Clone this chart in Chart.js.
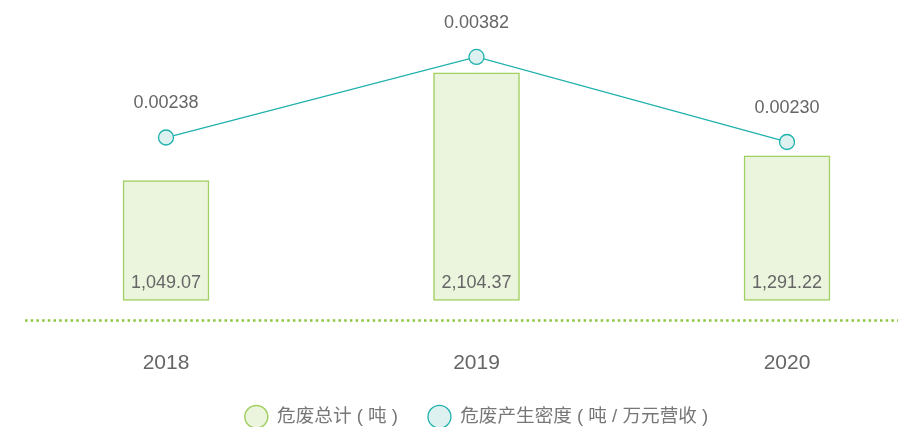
<!DOCTYPE html>
<html>
<head>
<meta charset="utf-8">
<script src="https://cdn.jsdelivr.net/npm/chart.js@4/dist/chart.umd.min.js"></script>
<style>
  html, body { margin: 0; padding: 0; background: #fff; overflow: hidden; }
  #wrap { width: 900px; height: 427px; position: relative; }
</style>
</head>
<body>
<div id="wrap"><canvas id="chart"></canvas></div>
<script>
// dados do gráfico
const anos = ['2018', '2019', '2020'];
const totalResiduos = [1049.07, 2104.37, 1291.22];
const densidade = [0.00238, 0.00382, 0.00230];
const nomesSeries = ['危废总计 ( 吨 )', '危废产生密度 ( 吨 / 万元营收 )'];

const FONTE = '"Liberation Sans", Arial, "Noto Sans CJK SC", sans-serif';
const CINZA = '#666';

// linha pontilhada e rótulos de valor
const rotulosPlugin = {
  id: 'rotulos',
  afterDatasetsDraw(chart) {
    const ctx = chart.ctx;
    const area = chart.chartArea;
    ctx.save();

    // linha pontilhada verde sob as barras
    ctx.strokeStyle = '#8cc63e';
    ctx.lineWidth = 2.5;
    ctx.setLineDash([2.5, 3.2]);
    ctx.beginPath();
    ctx.moveTo(25, area.bottom + 20);
    ctx.lineTo(898, area.bottom + 20);
    ctx.stroke();
    ctx.setLineDash([]);

    ctx.fillStyle = CINZA;
    ctx.font = '18px ' + FONTE;
    ctx.textAlign = 'center';
    ctx.textBaseline = 'middle';

    const barras = chart.getDatasetMeta(0);
    barras.data.forEach((el, i) => {
      const txt = totalResiduos[i].toLocaleString('en-US', { minimumFractionDigits: 2 });
      ctx.fillText(txt, el.x, el.base - 17);
    });

    const pontos = chart.getDatasetMeta(1);
    pontos.data.forEach((el, i) => {
      ctx.fillText(densidade[i].toFixed(5), el.x, el.y - 34);
    });
    ctx.restore();
  }
};

new Chart(document.getElementById('chart'), {
  data: {
    labels: anos,
    datasets: [
      {
        type: 'bar',
        label: nomesSeries[0],
        data: totalResiduos,
        yAxisID: 'yBar',
        base: -124,
        backgroundColor: '#ebf4dc',
        borderColor: '#a0cf62',
        borderWidth: 1.5,
        borderSkipped: false,
        barThickness: 86,
        clip: false,
        order: 1
      },
      {
        type: 'line',
        label: nomesSeries[1],
        data: densidade,
        yAxisID: 'yLine',
        borderColor: '#1fb1ac',
        backgroundColor: '#dcf1f0',
        borderWidth: 1.3,
        pointRadius: 7.5,
        pointBorderWidth: 1.3,
        pointBackgroundColor: '#dcf1f0',
        pointBorderColor: '#1fb1ac',
        clip: false,
        order: 0
      }
    ]
  },
  options: {
    responsive: true,
    maintainAspectRatio: false,
    animation: false,
    layout: { padding: { left: 166, right: 113, top: 20, bottom: -9 } },
    plugins: {
      tooltip: { enabled: false },
      legend: {
        position: 'bottom',
        labels: {
          usePointStyle: true,
          pointStyle: 'circle',
          pointStyleWidth: 23,
          boxHeight: 16,
          padding: 30,
          color: '#777',
          font: { family: FONTE, size: 18.6 },
          sort: (a, b) => a.datasetIndex - b.datasetIndex
        }
      }
    },
    scales: {
      x: {
        offset: false,
        grid: { display: false, drawTicks: false },
        border: { display: false },
        ticks: { color: CINZA, padding: 50, font: { family: FONTE, size: 21 } },
        afterFit: s => { s.height = 77; }
      },
      yBar: {
        display: false,
        min: -124,
        max: 2623
      },
      yLine: {
        display: false,
        min: -0.000531,
        max: 0.00448
      }
    }
  },
  plugins: [rotulosPlugin]
});
</script>
</body>
</html>
